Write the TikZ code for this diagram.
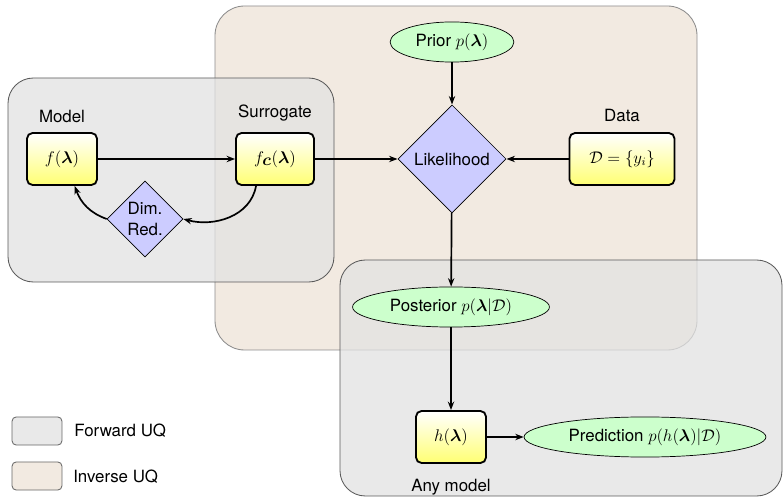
\documentclass[tikz,border=0pt]{standalone}
\usepackage{amsmath,bm}
\usepackage{fontspec}
\setmainfont{TeX Gyre Heros}
\usetikzlibrary{shapes.geometric,arrows.meta}
\definecolor{beige}{RGB}{242,234,225}
\definecolor{fwd}{RGB}{226,226,226}
\definecolor{fwdkeyc}{RGB}{233,233,233}
\begin{document}
\begin{tikzpicture}[x=0.025cm,y=-0.025cm,
  font=\fontsize{12}{15}\selectfont,
  invbox/.style={draw=black!45, fill=beige, rounded corners=21pt, line width=0.6pt},
  fwdbox/.style={draw=black!65, fill=fwd, fill opacity=0.75, rounded corners=18pt, line width=0.6pt},
  modelbox/.style={draw, line width=1.3pt, rounded corners=4pt, top color=white, bottom color=yellow!55, minimum height=37pt, inner sep=0pt},
  dist/.style={ellipse, draw, line width=0.5pt, fill=green!20, minimum height=28.5pt, inner sep=0pt},
  decide/.style={diamond, draw, line width=0.5pt, fill=blue!20, inner sep=0pt, aspect=1},
  arr/.style={-{Stealth[length=6pt,width=4.5pt]}, line width=1.2pt},
  lbl/.style={inner sep=0pt},
  keybox/.style={draw=black!60, line width=0.6pt, rounded corners=3pt, minimum width=35.5pt, minimum height=20pt, inner sep=0pt}]
\useasboundingbox (0,0) rectangle (784,498);
% regions
\draw[invbox] (215,6) rectangle (697,350);
\draw[fwdbox] (8,78) rectangle (334,282);
\draw[fwdbox] (340,260) rectangle (782,496);
% nodes
\node[decide, minimum size=77pt] (lik) at (452,159) {Likelihood};
\node[dist, minimum width=88pt] (prior) at (452,42) {Prior $p(\bm\lambda)$};
\node[modelbox, minimum width=74.7pt] (data) at (622,159) {$\mathcal{D}=\{y_i\}$};
\node[lbl] (datalbl) at (622,115) {Data};
\node[modelbox, minimum width=49.8pt] (f) at (62,159) {$f(\bm\lambda)$};
\node[lbl] (modellbl) at (62,116) {Model};
\node[modelbox, minimum width=55.5pt] (fc) at (275,159) {$f_{\textstyle\bm c}(\bm\lambda)$};
\node[lbl] (surlbl) at (275,113) {Surrogate};
\node[decide, minimum size=54pt, align=center] (dr) at (145,219) {Dim.\\Red.};
\node[dist, minimum width=140pt] (post) at (451,307) {Posterior $p(\bm\lambda|\mathcal{D})$};
\node[modelbox, minimum width=49.8pt] (h) at (451,437) {$h(\bm\lambda)$};
\node[dist, minimum width=172pt] (pred) at (645,437) {Prediction $p(h(\bm\lambda)|\mathcal{D})$};
\node[lbl] (anylbl) at (451,487) {Any model};
% legend
\node[keybox, fill=fwdkeyc] (fwdkey) at (37,431) {};
\node[lbl, anchor=west] (fwdtxt) at (74,431) {Forward UQ};
\node[keybox, fill=beige] (invkey) at (37,476) {};
\node[lbl, anchor=west] (invtxt) at (73,477) {Inverse UQ};
% connectors
\draw[arr] (f) -- (fc);
\draw[arr] (fc) -- (lik);
\draw[arr] (data) -- (lik);
\draw[arr] (prior) -- (lik);
\draw[arr] (lik) -- (post);
\draw[arr] (post) -- (h);
\draw[arr] (h) -- (pred);
\draw[arr] ([xshift=-13.5pt]fc.south) to[out=-100,in=-15] (dr.east);
\draw[arr] (dr.west) to[out=160,in=-70] ([xshift=9pt]f.south);
\end{tikzpicture}
\end{document}
